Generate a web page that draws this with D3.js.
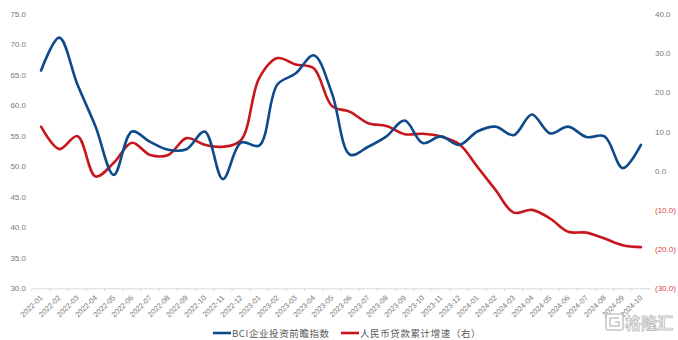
<!DOCTYPE html>
<html>
<head>
<meta charset="utf-8">
<script src="https://cdn.jsdelivr.net/npm/d3@7/dist/d3.min.js"></script>
<style>
  html, body { margin: 0; padding: 0; background: #fff; }
  svg { display: block; }
</style>
</head>
<body>
<svg id="chart" width="678" height="340"></svg>
<script>
const months = ["2022-01","2022-02","2022-03","2022-04","2022-05","2022-06","2022-07","2022-08","2022-09","2022-10","2022-11","2022-12",
  "2023-01","2023-02","2023-03","2023-04","2023-05","2023-06","2023-07","2023-08","2023-09","2023-10","2023-11","2023-12",
  "2024-01","2024-02","2024-03","2024-04","2024-05","2024-06","2024-07","2024-08","2024-09","2024-10"];

const bciIndex = [65.7, 71.1, 63.4, 56.5, 48.6, 55.7, 54.0, 52.7, 52.8, 55.7, 47.9, 53.9,
  53.4, 63.4, 65.2, 68.2, 62.0, 51.9, 53.2, 54.9, 57.5, 53.8, 54.9, 53.5,
  55.7, 56.5, 55.1, 58.5, 55.4, 56.5, 54.8, 54.9, 49.7, 53.5];

const loanGrowth = [11.2, 5.5, 8.8, -1.5, 2.0, 7.1, 4.0, 4.0, 8.3, 6.6, 6.1, 7.8,
  23.6, 28.7, 27.1, 26.1, 16.5, 15.0, 12.1, 11.4, 9.3, 9.4, 8.7, 6.8,
  1.0, -4.9, -10.7, -10.0, -12.2, -15.6, -15.8, -17.3, -19.0, -19.5];

const leftTicks = [30, 35, 40, 45, 50, 55, 60, 65, 70, 75];
const rightTicks = [-30, -20, -10, 0, 10, 20, 30, 40];

const seriesNames = ["BCI企业投资前瞻指数", "人民币贷款累计增速（右）"];
const colors = { blue: "#0e4a8a", red: "#c8161d" };

const svg = d3.select("#chart");
const plot = { left: 32, right: 650, top: 13.8, bottom: 288.3 };

const x = d3.scaleBand().domain(months).range([plot.left, plot.right]).padding(0);
const yL = d3.scaleLinear().domain([30, 75]).range([plot.bottom, plot.top]);
const yR = d3.scaleLinear().domain([-30, 40]).range([plot.bottom, plot.top]);
const cx = d => x(d) + x.bandwidth() / 2;

const fontLatin = "'Liberation Sans', Arial, sans-serif";
const fontCJK = "'Noto Sans CJK SC', 'Liberation Sans', sans-serif";

// Left axis
const gL = svg.append("g").attr("transform", `translate(26,0)`)
  .call(d3.axisLeft(yL).tickValues(leftTicks).tickFormat(d3.format(".1f")).tickSize(0).tickPadding(0));
gL.select(".domain").remove();
gL.selectAll("text").attr("fill", "#7a7a7a").style("font-family", fontLatin).style("font-size", "8px");

// Right axis
const fmtR = v => v < 0 ? `(${Math.abs(v).toFixed(1)})` : v.toFixed(1);
const gR = svg.append("g").attr("transform", `translate(655,0)`)
  .call(d3.axisRight(yR).tickValues(rightTicks).tickFormat(fmtR).tickSize(0).tickPadding(0));
gR.select(".domain").remove();
gR.selectAll("text")
  .attr("fill", d => d < 0 ? "#e0443c" : "#7a7a7a")
  .style("font-family", fontLatin).style("font-size", "8px");

// Bottom axis
const gX = svg.append("g").attr("transform", `translate(0,${plot.bottom})`)
  .call(d3.axisBottom(x).tickSize(0).tickPadding(0));
gX.select(".domain").attr("stroke", "#d9d9d9").attr("stroke-width", 1);
gX.selectAll("text")
  .attr("fill", "#7a7a7a")
  .style("font-family", fontLatin).style("font-size", "7.5px")
  .attr("text-anchor", "end")
  .attr("dy", null).attr("y", null)
  .attr("transform", "translate(2,10) rotate(-45)");
// small ticks at category boundaries
svg.append("g").selectAll("line").data(months).join("line")
  .attr("x1", d => x(d)).attr("x2", d => x(d))
  .attr("y1", plot.bottom).attr("y2", plot.bottom + 3)
  .attr("stroke", "#d9d9d9");

// Lines
const lineL = d3.line().x((d, i) => cx(months[i])).y(d => yL(d)).curve(d3.curveCatmullRom.alpha(0.5));
const lineR = d3.line().x((d, i) => cx(months[i])).y(d => yR(d)).curve(d3.curveCatmullRom.alpha(0.5));

svg.append("path").datum(loanGrowth).attr("d", lineR)
  .attr("fill", "none").attr("stroke", colors.red).attr("stroke-width", 2.6)
  .attr("stroke-linejoin", "round").attr("stroke-linecap", "round");
svg.append("path").datum(bciIndex).attr("d", lineL)
  .attr("fill", "none").attr("stroke", colors.blue).attr("stroke-width", 2.6)
  .attr("stroke-linejoin", "round").attr("stroke-linecap", "round");

// Legend
const legend = [
  { name: seriesNames[0], color: colors.blue, x: 213 },
  { name: seriesNames[1], color: colors.red, x: 341 }
];
const lg = svg.append("g");
legend.forEach(l => {
  lg.append("line").attr("x1", l.x).attr("x2", l.x + 18).attr("y1", 333).attr("y2", 333)
    .attr("stroke", l.color).attr("stroke-width", 2.6);
  lg.append("text").attr("x", l.x + 19).attr("y", 336.5)
    .attr("fill", "#595959").style("font-family", fontCJK).style("font-size", "9.5px")
    .style("letter-spacing", "0.6px")
    .text(l.name);
});

// Watermark
const wm = svg.append("g").attr("opacity", 0.85);
wm.append("rect").attr("x", 606).attr("y", 314).attr("width", 17).attr("height", 16).attr("rx", 2)
  .attr("fill", "#fff").attr("stroke", "#bdbdbd").attr("stroke-width", 1.6);
wm.append("path").attr("d", "M619 318 L610 318 L610 326 L619 326 L619 322 L615 322")
  .attr("fill", "none").attr("stroke", "#bdbdbd").attr("stroke-width", 1.6);
wm.append("text").attr("x", 625).attr("y", 328.5)
  .attr("fill", "#fff").attr("stroke", "#b5b5b5").attr("stroke-width", 0.9)
  .style("font-family", fontCJK).style("font-size", "16px").style("font-weight", "bold")
  .text("格隆汇");
</script>
</body>
</html>
